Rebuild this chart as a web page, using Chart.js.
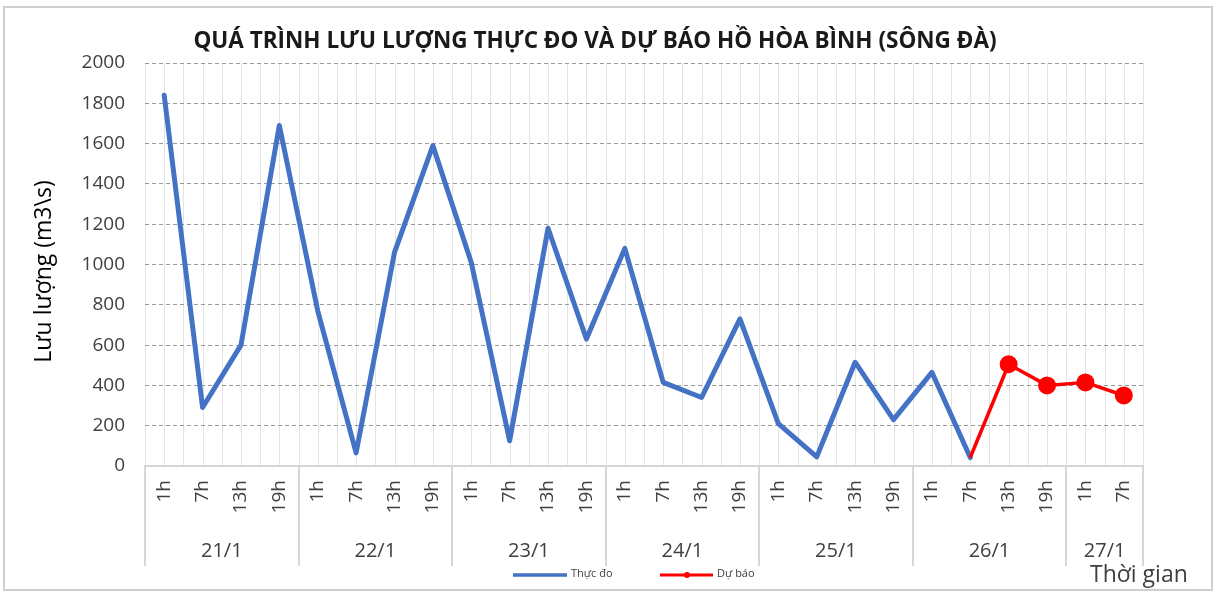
<!DOCTYPE html>
<html>
<head>
<meta charset="utf-8">
<script src="https://cdn.jsdelivr.net/npm/chart.js@4.4.1/dist/chart.umd.min.js"></script>
<style>
html,body{margin:0;padding:0;background:#fff;}
#wrap{width:1217px;height:593px;position:relative;}
canvas{display:block;}
</style>
</head>
<body>
<div id="wrap"><canvas id="c" width="1217" height="593"></canvas></div>
<script>
// ---- data ----
const hourLabels = ['1h','7h','13h','19h','1h','7h','13h','19h','1h','7h','13h','19h','1h','7h','13h','19h','1h','7h','13h','19h','1h','7h','13h','19h','1h','7h'];
const dayLabels = ['21/1','22/1','23/1','24/1','25/1','26/1','27/1'];
const daySizes = [4,4,4,4,4,4,2];
const measured = [1840,290,600,1690,770,65,1060,1590,1010,125,1180,630,1080,415,340,730,210,45,515,230,465,42,null,null,null,null];
const forecast = [null,null,null,null,null,null,null,null,null,null,null,null,null,null,null,null,null,null,null,null,null,42,505,400,415,350];
const yTicks = [0,200,400,600,800,1000,1200,1400,1600,1800,2000];

const titleText = 'QUÁ TRÌNH LƯU LƯỢNG THỰC ĐO VÀ DỰ BÁO HỒ HÒA BÌNH (SÔNG ĐÀ)';
const yTitle = 'Lưu lượng (m3\\s)';
const xTitle = 'Thời gian';
const seriesNames = ['Thực đo','Dự báo'];

const FONT = '"Open Sans", "Noto Sans", sans-serif';
const TXT = '#404040';

const decor = {
  id: 'decor',
  beforeDraw(chart) {
    const ctx = chart.ctx, a = chart.chartArea, x = chart.scales.x;
    ctx.save();
    ctx.fillStyle = '#fff';
    ctx.fillRect(0, 0, chart.width, chart.height);
    // outer frame
    ctx.strokeStyle = '#cfcfcf';
    ctx.lineWidth = 2;
    ctx.strokeRect(4, 7, 1208, 583);
    // vertical gridlines at category centres and boundaries
    const w = x.getPixelForValue(1) - x.getPixelForValue(0);
    ctx.strokeStyle = '#e3e3e3';
    ctx.lineWidth = 1;
    for (let i = 0; i < hourLabels.length; i++) {
      const c = x.getPixelForValue(i);
      [c - w / 2, c].forEach(px => {
        ctx.beginPath();
        ctx.moveTo(Math.round(px) + 0.5, a.top);
        ctx.lineTo(Math.round(px) + 0.5, a.bottom);
        ctx.stroke();
      });
    }
    const last = x.getPixelForValue(hourLabels.length - 1) + w / 2;
    ctx.beginPath();
    ctx.moveTo(Math.round(last) + 0.5, a.top);
    ctx.lineTo(Math.round(last) + 0.5, a.bottom);
    ctx.stroke();
    ctx.restore();
  },
  afterDraw(chart) {
    const ctx = chart.ctx, a = chart.chartArea, x = chart.scales.x;
    const w = x.getPixelForValue(1) - x.getPixelForValue(0);
    ctx.save();
    // hour labels (rotated)
    ctx.fillStyle = TXT;
    ctx.font = '19px ' + FONT;
    ctx.textAlign = 'right';
    ctx.textBaseline = 'middle';
    hourLabels.forEach((h, i) => {
      const c = x.getPixelForValue(i);
      ctx.save();
      ctx.translate(c, a.bottom + 14);
      ctx.rotate(-Math.PI / 2);
      ctx.fillText(h, 0, 0);
      ctx.restore();
    });
    // group separators and labels
    ctx.strokeStyle = '#d6d6d6';
    ctx.lineWidth = 2;
    ctx.font = '20px ' + FONT;
    ctx.textAlign = 'center';
    let idx = 0;
    const sepX = [];
    daySizes.forEach((n, g) => {
      const x0 = x.getPixelForValue(idx) - w / 2;
      const x1 = x.getPixelForValue(idx + n - 1) + w / 2;
      sepX.push(x0);
      if (g === daySizes.length - 1) sepX.push(x1);
      ctx.fillText(dayLabels[g], (x0 + x1) / 2, a.bottom + 85);
      idx += n;
    });
    sepX.forEach(px => {
      ctx.beginPath();
      ctx.moveTo(Math.round(px), a.bottom);
      ctx.lineTo(Math.round(px), a.bottom + 100);
      ctx.stroke();
    });
    // title
    ctx.fillStyle = '#1a1a1a';
    ctx.font = 'bold 22.5px ' + FONT;
    ctx.textAlign = 'center';
    ctx.fillText(titleText, 595, 42);
    // y title
    ctx.save();
    ctx.fillStyle = '#000';
    ctx.font = '23px ' + FONT;
    ctx.translate(44, (a.top + a.bottom) / 2 + 7);
    ctx.rotate(-Math.PI / 2);
    ctx.fillText(yTitle, 0, 0);
    ctx.restore();
    // x title
    ctx.fillStyle = TXT;
    ctx.font = '23px ' + FONT;
    ctx.textAlign = 'left';
    ctx.textBaseline = 'alphabetic';
    ctx.fillText(xTitle, 1090, 582);
    // legend
    ctx.textBaseline = 'middle';
    ctx.font = '11px ' + FONT;
    ctx.lineCap = 'butt';
    ctx.strokeStyle = '#4472C4';
    ctx.lineWidth = 3.5;
    ctx.beginPath(); ctx.moveTo(513, 575); ctx.lineTo(567, 575); ctx.stroke();
    ctx.fillStyle = TXT;
    ctx.fillText(seriesNames[0], 571, 574);
    ctx.strokeStyle = '#FF0000';
    ctx.lineWidth = 3;
    ctx.beginPath(); ctx.moveTo(660, 575); ctx.lineTo(713, 575); ctx.stroke();
    ctx.fillStyle = '#FF0000';
    ctx.beginPath(); ctx.arc(687, 575, 3, 0, Math.PI * 2); ctx.fill();
    ctx.fillStyle = TXT;
    ctx.fillText(seriesNames[1], 717, 574);
    ctx.restore();
  }
};

new Chart(document.getElementById('c'), {
  type: 'line',
  data: {
    labels: hourLabels,
    datasets: [
      {
        label: seriesNames[0],
        data: measured,
        borderColor: '#4472C4',
        backgroundColor: '#4472C4',
        borderWidth: 5,
        borderJoinStyle: 'round',
        borderCapStyle: 'round',
        pointRadius: 0,
        tension: 0,
        spanGaps: false,
        order: 2
      },
      {
        label: seriesNames[1],
        data: forecast,
        borderColor: '#FF0000',
        backgroundColor: '#FF0000',
        borderWidth: 3.5,
        borderJoinStyle: 'round',
        pointRadius: ctx => (ctx.dataIndex === 21 ? 0 : 8),
        pointBorderWidth: 2,
        pointBorderColor: '#FF0000',
        pointBackgroundColor: '#FF0000',
        tension: 0,
        order: 1
      }
    ]
  },
  options: {
    responsive: false,
    animation: false,
    devicePixelRatio: 1,
    layout: { padding: { top: 63, right: 74, bottom: 0, left: 0 } },
    plugins: { legend: { display: false }, title: { display: false }, tooltip: { enabled: false } },
    scales: {
      x: {
        type: 'category',
        offset: true,
        ticks: { display: false },
        grid: { display: false, drawTicks: false },
        border: { display: true, color: '#d6d6d6', width: 2 },
        afterFit: s => { s.height = 127; }
      },
      y: {
        min: 0,
        max: 2000,
        afterBuildTicks: s => { s.ticks = yTicks.map(v => ({ value: v })); },
        ticks: { color: TXT, font: { family: FONT, size: 19 }, padding: 20, callback: v => String(v) },
        grid: {
          drawTicks: false,
          color: c => (c.tick && c.tick.value === 0 ? 'rgba(0,0,0,0)' : '#9a9a9a'),
          lineWidth: 1
        },
        border: { display: false, dash: [4, 3] },
        afterFit: s => { s.width = 145; }
      }
    }
  },
  plugins: [decor]
});
</script>
</body>
</html>
